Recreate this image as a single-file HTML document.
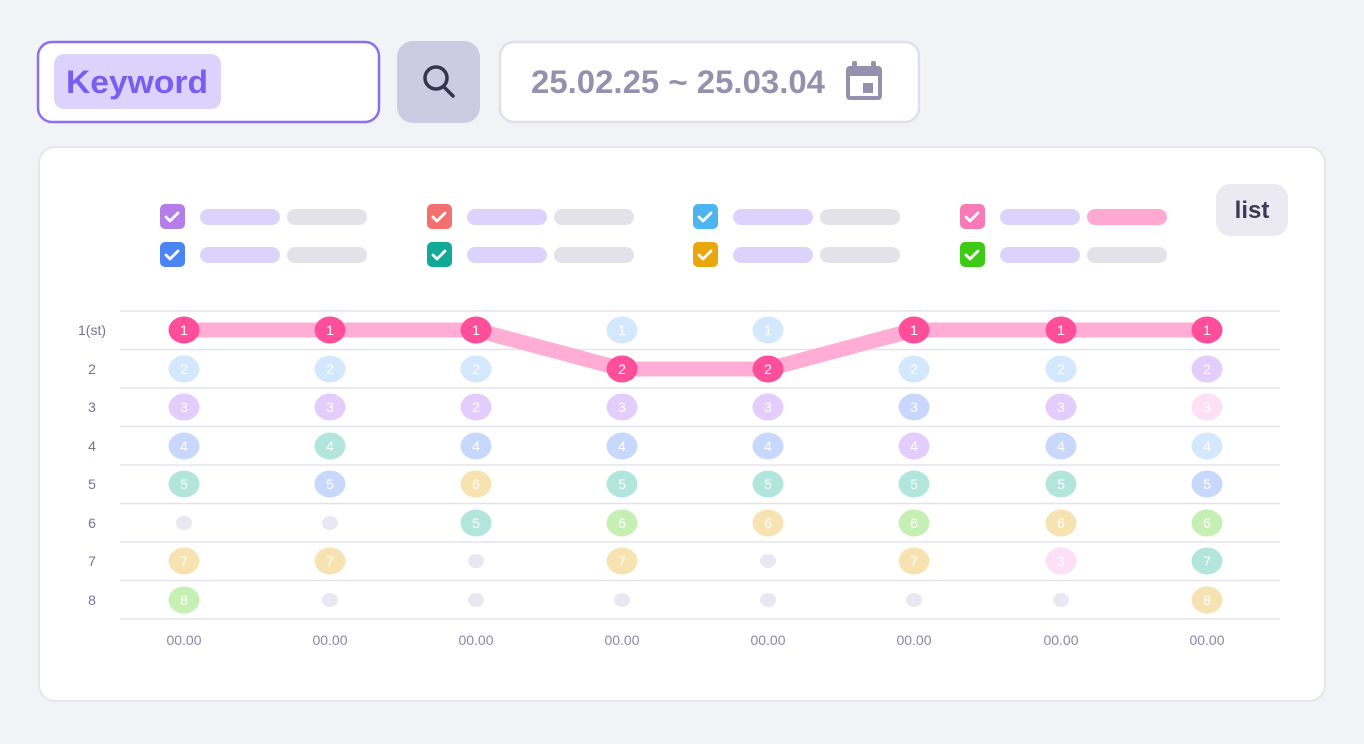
<!DOCTYPE html>
<html><head><meta charset="utf-8"><style>
html,body{margin:0;padding:0;background:#f2f3f7;}
svg{display:block;font-family:"Liberation Sans",sans-serif;}
.m text{fill:#fff;font-size:14px;text-anchor:middle;}
</style></head><body>
<svg width="1364" height="744" viewBox="0 0 1364 744" xmlns="http://www.w3.org/2000/svg">
<rect width="1364" height="744" fill="#f2f3f7"/>
<!-- keyword box -->
<rect x="38" y="42" width="341" height="80" rx="14" fill="#fff" stroke="#8b6ff0" stroke-width="2.5"/>
<rect x="54" y="54" width="167" height="55" rx="10" fill="#dcd3fd"/>
<text x="137" y="93" text-anchor="middle" font-size="32" font-weight="bold" fill="#7b5cf0" textLength="142" lengthAdjust="spacingAndGlyphs">Keyword</text>
<!-- search -->
<rect x="397" y="41" width="83" height="82" rx="16" fill="#cdcbe2"/>
<circle cx="436" cy="78" r="11" fill="none" stroke="#363450" stroke-width="3.5"/>
<line x1="444" y1="87" x2="453" y2="96" stroke="#363450" stroke-width="3.5" stroke-linecap="round"/>
<!-- date -->
<rect x="500" y="42" width="419" height="80" rx="14" fill="#fff" stroke="#e0dfea" stroke-width="2.5"/>
<text x="531" y="93" font-size="32" font-weight="bold" fill="#9590ad" textLength="294" lengthAdjust="spacingAndGlyphs">25.02.25 ~ 25.03.04</text>
<rect x="846" y="66" width="36" height="34" rx="4" fill="#9590ad"/>
<rect x="850" y="76" width="28" height="20" fill="#fff"/>
<rect x="852" y="61" width="5" height="9" rx="2" fill="#9590ad"/>
<rect x="871" y="61" width="5" height="9" rx="2" fill="#9590ad"/>
<rect x="863" y="83" width="10" height="10" fill="#9590ad"/>
<!-- card -->
<rect x="39" y="147" width="1286" height="554" rx="16" fill="#fff" stroke="#e6e6ee" stroke-width="2"/>
<!-- legend -->
<g>
<rect x="160" y="204" width="25" height="25" rx="5" fill="#b57de8"/>
<rect x="427" y="204" width="25" height="25" rx="5" fill="#f4706e"/>
<rect x="693" y="204" width="25" height="25" rx="5" fill="#4cb5f0"/>
<rect x="960" y="204" width="25" height="25" rx="5" fill="#f87bb8"/>
<rect x="160" y="242" width="25" height="25" rx="5" fill="#4a84f5"/>
<rect x="427" y="242" width="25" height="25" rx="5" fill="#10aa96"/>
<rect x="693" y="242" width="25" height="25" rx="5" fill="#e8a70a"/>
<rect x="960" y="242" width="25" height="25" rx="5" fill="#3ec914"/>
<g fill="none" stroke="#fff" stroke-width="2.8" stroke-linecap="round" stroke-linejoin="round">
<path d="M166 217l4 4 8-8"/><path d="M433 217l4 4 8-8"/><path d="M699 217l4 4 8-8"/><path d="M966 217l4 4 8-8"/>
<path d="M166 255l4 4 8-8"/><path d="M433 255l4 4 8-8"/><path d="M699 255l4 4 8-8"/><path d="M966 255l4 4 8-8"/>
</g>
<g fill="#dcd3fd">
<rect x="200" y="209" width="80" height="16" rx="8"/><rect x="467" y="209" width="80" height="16" rx="8"/><rect x="733" y="209" width="80" height="16" rx="8"/><rect x="1000" y="209" width="80" height="16" rx="8"/>
<rect x="200" y="247" width="80" height="16" rx="8"/><rect x="467" y="247" width="80" height="16" rx="8"/><rect x="733" y="247" width="80" height="16" rx="8"/><rect x="1000" y="247" width="80" height="16" rx="8"/>
</g>
<g fill="#e3e2e8">
<rect x="287" y="209" width="80" height="16" rx="8"/><rect x="554" y="209" width="80" height="16" rx="8"/><rect x="820" y="209" width="80" height="16" rx="8"/>
<rect x="287" y="247" width="80" height="16" rx="8"/><rect x="554" y="247" width="80" height="16" rx="8"/><rect x="820" y="247" width="80" height="16" rx="8"/><rect x="1087" y="247" width="80" height="16" rx="8"/>
</g>
<rect x="1087" y="209" width="80" height="16" rx="8" fill="#ffa9d2"/>
</g>
<rect x="1216" y="184" width="72" height="52" rx="14" fill="#ebeaf2"/>
<text x="1252" y="218" text-anchor="middle" font-size="24" font-weight="bold" fill="#3c3a55">list</text>
<!-- grid -->
<g stroke="#e4e3ec" stroke-width="1.5">
<line x1="120" y1="311" x2="1280" y2="311"/><line x1="120" y1="349.5" x2="1280" y2="349.5"/><line x1="120" y1="388" x2="1280" y2="388"/><line x1="120" y1="426.5" x2="1280" y2="426.5"/><line x1="120" y1="465" x2="1280" y2="465"/><line x1="120" y1="503.5" x2="1280" y2="503.5"/><line x1="120" y1="542" x2="1280" y2="542"/><line x1="120" y1="580.5" x2="1280" y2="580.5"/><line x1="120" y1="619" x2="1280" y2="619"/>
</g>
<g font-size="14" fill="#77758f" text-anchor="middle">
<text x="92" y="335">1(st)</text><text x="92" y="374">2</text><text x="92" y="412">3</text><text x="92" y="451">4</text><text x="92" y="489">5</text><text x="92" y="528">6</text><text x="92" y="566">7</text><text x="92" y="605">8</text>
</g>
<g font-size="14" fill="#8a88a2" text-anchor="middle">
<text x="184" y="645">00.00</text><text x="330" y="645">00.00</text><text x="476" y="645">00.00</text><text x="622" y="645">00.00</text><text x="768" y="645">00.00</text><text x="914" y="645">00.00</text><text x="1061" y="645">00.00</text><text x="1207" y="645">00.00</text>
</g>
<!-- pink line -->
<polyline points="184,330 330,330 476,330 622,369 768,369 914,330 1061,330 1207,330" fill="none" stroke="#ffa9d2" stroke-width="15" stroke-linejoin="round" opacity="0.95"/>
<!-- dots -->
<g fill="#e9e8f2">
<ellipse cx="184" cy="523" rx="8" ry="7"/><ellipse cx="330" cy="523" rx="8" ry="7"/><ellipse cx="330" cy="600" rx="8" ry="7"/>
<ellipse cx="476" cy="561" rx="8" ry="7"/><ellipse cx="476" cy="600" rx="8" ry="7"/><ellipse cx="622" cy="600" rx="8" ry="7"/>
<ellipse cx="768" cy="561" rx="8" ry="7"/><ellipse cx="768" cy="600" rx="8" ry="7"/><ellipse cx="914" cy="600" rx="8" ry="7"/><ellipse cx="1061" cy="600" rx="8" ry="7"/>
</g>
<g class="m">
<!-- col1 -->
<ellipse cx="184" cy="330" rx="15.5" ry="13.5" fill="#ff4f9a"/><text x="184" y="335">1</text>
<ellipse cx="184" cy="369" rx="15.5" ry="13.5" fill="#d3e8fd"/><text x="184" y="374">2</text>
<ellipse cx="184" cy="407" rx="15.5" ry="13.5" fill="#e3cdfc"/><text x="184" y="412">3</text>
<ellipse cx="184" cy="446" rx="15.5" ry="13.5" fill="#c8d8fc"/><text x="184" y="451">4</text>
<ellipse cx="184" cy="484" rx="15.5" ry="13.5" fill="#b2e6dc"/><text x="184" y="489">5</text>
<ellipse cx="184" cy="561" rx="15.5" ry="13.5" fill="#f7e3b1"/><text x="184" y="566">7</text>
<ellipse cx="184" cy="600" rx="15.5" ry="13.5" fill="#c6efb3"/><text x="184" y="605">8</text>
<!-- col2 -->
<ellipse cx="330" cy="330" rx="15.5" ry="13.5" fill="#ff4f9a"/><text x="330" y="335">1</text>
<ellipse cx="330" cy="369" rx="15.5" ry="13.5" fill="#d3e8fd"/><text x="330" y="374">2</text>
<ellipse cx="330" cy="407" rx="15.5" ry="13.5" fill="#e3cdfc"/><text x="330" y="412">3</text>
<ellipse cx="330" cy="446" rx="15.5" ry="13.5" fill="#b2e6dc"/><text x="330" y="451">4</text>
<ellipse cx="330" cy="484" rx="15.5" ry="13.5" fill="#c8d8fc"/><text x="330" y="489">5</text>
<ellipse cx="330" cy="561" rx="15.5" ry="13.5" fill="#f7e3b1"/><text x="330" y="566">7</text>
<!-- col3 -->
<ellipse cx="476" cy="330" rx="15.5" ry="13.5" fill="#ff4f9a"/><text x="476" y="335">1</text>
<ellipse cx="476" cy="369" rx="15.5" ry="13.5" fill="#d3e8fd"/><text x="476" y="374">2</text>
<ellipse cx="476" cy="407" rx="15.5" ry="13.5" fill="#e3cdfc"/><text x="476" y="412">2</text>
<ellipse cx="476" cy="446" rx="15.5" ry="13.5" fill="#c8d8fc"/><text x="476" y="451">4</text>
<ellipse cx="476" cy="484" rx="15.5" ry="13.5" fill="#f7e3b1"/><text x="476" y="489">6</text>
<ellipse cx="476" cy="523" rx="15.5" ry="13.5" fill="#b2e6dc"/><text x="476" y="528">5</text>
<!-- col4 -->
<ellipse cx="622" cy="330" rx="15.5" ry="13.5" fill="#d3e8fd"/><text x="622" y="335">1</text>
<ellipse cx="622" cy="369" rx="15.5" ry="13.5" fill="#ff4f9a"/><text x="622" y="374">2</text>
<ellipse cx="622" cy="407" rx="15.5" ry="13.5" fill="#e3cdfc"/><text x="622" y="412">3</text>
<ellipse cx="622" cy="446" rx="15.5" ry="13.5" fill="#c8d8fc"/><text x="622" y="451">4</text>
<ellipse cx="622" cy="484" rx="15.5" ry="13.5" fill="#b2e6dc"/><text x="622" y="489">5</text>
<ellipse cx="622" cy="523" rx="15.5" ry="13.5" fill="#c6efb3"/><text x="622" y="528">6</text>
<ellipse cx="622" cy="561" rx="15.5" ry="13.5" fill="#f7e3b1"/><text x="622" y="566">7</text>
<!-- col5 -->
<ellipse cx="768" cy="330" rx="15.5" ry="13.5" fill="#d3e8fd"/><text x="768" y="335">1</text>
<ellipse cx="768" cy="369" rx="15.5" ry="13.5" fill="#ff4f9a"/><text x="768" y="374">2</text>
<ellipse cx="768" cy="407" rx="15.5" ry="13.5" fill="#e3cdfc"/><text x="768" y="412">3</text>
<ellipse cx="768" cy="446" rx="15.5" ry="13.5" fill="#c8d8fc"/><text x="768" y="451">4</text>
<ellipse cx="768" cy="484" rx="15.5" ry="13.5" fill="#b2e6dc"/><text x="768" y="489">5</text>
<ellipse cx="768" cy="523" rx="15.5" ry="13.5" fill="#f7e3b1"/><text x="768" y="528">6</text>
<!-- col6 -->
<ellipse cx="914" cy="330" rx="15.5" ry="13.5" fill="#ff4f9a"/><text x="914" y="335">1</text>
<ellipse cx="914" cy="369" rx="15.5" ry="13.5" fill="#d3e8fd"/><text x="914" y="374">2</text>
<ellipse cx="914" cy="407" rx="15.5" ry="13.5" fill="#c8d8fc"/><text x="914" y="412">3</text>
<ellipse cx="914" cy="446" rx="15.5" ry="13.5" fill="#e3cdfc"/><text x="914" y="451">4</text>
<ellipse cx="914" cy="484" rx="15.5" ry="13.5" fill="#b2e6dc"/><text x="914" y="489">5</text>
<ellipse cx="914" cy="523" rx="15.5" ry="13.5" fill="#c6efb3"/><text x="914" y="528">6</text>
<ellipse cx="914" cy="561" rx="15.5" ry="13.5" fill="#f7e3b1"/><text x="914" y="566">7</text>
<!-- col7 -->
<ellipse cx="1061" cy="330" rx="15.5" ry="13.5" fill="#ff4f9a"/><text x="1061" y="335">1</text>
<ellipse cx="1061" cy="369" rx="15.5" ry="13.5" fill="#d3e8fd"/><text x="1061" y="374">2</text>
<ellipse cx="1061" cy="407" rx="15.5" ry="13.5" fill="#e3cdfc"/><text x="1061" y="412">3</text>
<ellipse cx="1061" cy="446" rx="15.5" ry="13.5" fill="#c8d8fc"/><text x="1061" y="451">4</text>
<ellipse cx="1061" cy="484" rx="15.5" ry="13.5" fill="#b2e6dc"/><text x="1061" y="489">5</text>
<ellipse cx="1061" cy="523" rx="15.5" ry="13.5" fill="#f7e3b1"/><text x="1061" y="528">6</text>
<ellipse cx="1061" cy="561" rx="15.5" ry="13.5" fill="#fde0f6"/><text x="1061" y="566">3</text>
<!-- col8 -->
<ellipse cx="1207" cy="330" rx="15.5" ry="13.5" fill="#ff4f9a"/><text x="1207" y="335">1</text>
<ellipse cx="1207" cy="369" rx="15.5" ry="13.5" fill="#e3cdfc"/><text x="1207" y="374">2</text>
<ellipse cx="1207" cy="407" rx="15.5" ry="13.5" fill="#fde0f6"/><text x="1207" y="412">3</text>
<ellipse cx="1207" cy="446" rx="15.5" ry="13.5" fill="#d3e8fd"/><text x="1207" y="451">4</text>
<ellipse cx="1207" cy="484" rx="15.5" ry="13.5" fill="#c8d8fc"/><text x="1207" y="489">5</text>
<ellipse cx="1207" cy="523" rx="15.5" ry="13.5" fill="#c6efb3"/><text x="1207" y="528">6</text>
<ellipse cx="1207" cy="561" rx="15.5" ry="13.5" fill="#b2e6dc"/><text x="1207" y="566">7</text>
<ellipse cx="1207" cy="600" rx="15.5" ry="13.5" fill="#f7e3b1"/><text x="1207" y="605">8</text>
</g>
</svg>
</body></html>
